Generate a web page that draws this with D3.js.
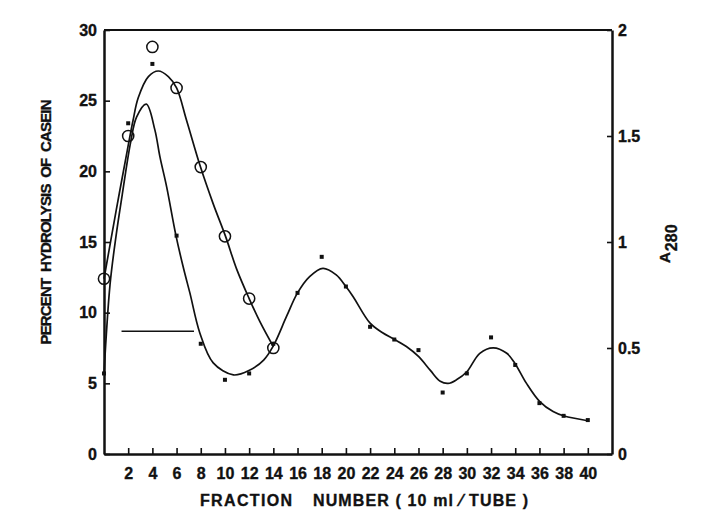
<!DOCTYPE html>
<html>
<head>
<meta charset="utf-8">
<script src="https://cdn.jsdelivr.net/npm/d3@7"></script>
<style>
  html, body { margin: 0; padding: 0; background: #fff; }
  svg { display: block; }
  text { font-family: "Liberation Sans", Arial, Helvetica, sans-serif; font-weight: bold; fill: #111; stroke: #111; stroke-width: 0.35px; }
</style>
</head>
<body>
<svg id="chart" width="708" height="520"></svg>
<script>
// ---------- data ----------
const fractionTicks = [2,4,6,8,10,12,14,16,18,20,22,24,26,28,30,32,34,36,38,40];
const leftTicks = [0,5,10,15,20,25,30];
const rightTicks = [0,0.5,1,1.5,2];

// Percent hydrolysis of casein (open circles, left axis)
const hydroFractions = [0,2,4,6,8,10,12,14];
const hydroValues    = [12.4,22.5,28.8,25.9,20.3,15.4,11.0,7.5];

// A280 (small dots, right axis)
const a280Fractions = [0,2,4,6,8,10,12,14,16,18,20,22,24,26,28,30,32,34,36,38,40];
const a280Values    = [0.38,1.56,1.84,1.03,0.52,0.35,0.38,0.52,0.76,0.93,0.79,0.60,0.54,0.49,0.29,0.38,0.55,0.42,0.24,0.18,0.16];

// Hand-drawn smooth curves
const hydroCurve = [[0,12.4],[1,17.2],[1.93,21.5],[2.4,23.6],[2.83,25.2],[3.67,26.7],[4.49,27.1],[5.32,26.7],[6,25.9],[6.83,23.6],[7.98,20.3],[9.03,17.7],[10.05,15.4],[10.96,13.1],[12,11.0],[12.89,9.36],[14,7.6]];
const a280Curve = [[0,0.38],[0.5,0.80],[1,1.03],[1.5,1.22],[2.2,1.47],[2.7,1.59],[3.5,1.65],[4.2,1.53],[4.63,1.40],[5.18,1.26],[5.95,1.03],[6.6,0.87],[7.1,0.76],[7.93,0.57],[9.03,0.43],[10.7,0.373],[12.06,0.396],[13.2,0.443],[14,0.51],[15.1,0.65],[16,0.76],[17,0.837],[18.1,0.876],[19.2,0.845],[20,0.79],[20.6,0.742],[22,0.617],[23,0.573],[24,0.541],[25,0.507],[26,0.46],[27,0.393],[27.8,0.343],[28.45,0.333],[29.14,0.35],[30,0.388],[31.07,0.475],[32.17,0.501],[33.3,0.475],[34,0.425],[34.93,0.333],[36.03,0.247],[37.13,0.20],[38.04,0.179],[40,0.157]];

// pooled fractions bar (left-axis units)
const poolRange = [1.45, 7.44];
const poolLevel = 8.68;

// ---------- drawing ----------
const svg = d3.select("#chart");
const x  = d3.scaleLinear().domain([0,42]).range([104,612]);
const yL = d3.scaleLinear().domain([0,30]).range([454,30]);
const yR = d3.scaleLinear().domain([0,2]).range([454,30]);
const ink = "#111";

// frame top
svg.append("line").attr("x1",x(0)).attr("x2",x(42)).attr("y1",yL(30)).attr("y2",yL(30))
  .attr("stroke",ink).attr("stroke-width",2);

// left axis
const gL = svg.append("g").attr("transform",`translate(${x(0)},0)`)
  .call(d3.axisLeft(yL).tickValues(leftTicks).tickSize(-6).tickSizeOuter(0).tickPadding(7).tickFormat(d3.format("d")));
// right axis
const gR = svg.append("g").attr("transform",`translate(${x(42)},0)`)
  .call(d3.axisRight(yR).tickValues(rightTicks).tickSize(-5).tickSizeOuter(0).tickPadding(6).tickFormat(d => d));
// bottom axis
const gB = svg.append("g").attr("transform",`translate(0,${yL(0)})`)
  .call(d3.axisBottom(x).tickValues(fractionTicks).tickSize(-6).tickSizeOuter(0).tickPadding(14).tickFormat(d3.format("d")));

[gL,gR,gB].forEach(g => {
  g.select(".domain").attr("stroke",ink).attr("stroke-width",2.5);
  g.selectAll(".tick line").attr("stroke",ink).attr("stroke-width",1.6);
  g.selectAll(".tick text").attr("fill",ink);
});
gL.selectAll(".tick text").style("font-size","16px");
gR.selectAll(".tick text").style("font-size","16px");
gB.selectAll(".tick text").style("font-size","16px")
  .style("font-family","'Liberation Sans Narrow','Liberation Sans',Arial,sans-serif");

// curves
const lineL = d3.line().x(d => x(d[0])).y(d => yL(d[1])).curve(d3.curveCatmullRom.alpha(0.5));
const lineR = d3.line().x(d => x(d[0])).y(d => yR(d[1])).curve(d3.curveCatmullRom.alpha(0.5));
svg.append("path").attr("d", lineL(hydroCurve)).attr("fill","none").attr("stroke",ink).attr("stroke-width",1.7);
svg.append("path").attr("d", lineR(a280Curve)).attr("fill","none").attr("stroke",ink).attr("stroke-width",1.7);

// pool bar
svg.append("line").attr("x1",x(poolRange[0])).attr("x2",x(poolRange[1]))
  .attr("y1",yL(poolLevel)).attr("y2",yL(poolLevel)).attr("stroke",ink).attr("stroke-width",1.5);

// dots (A280)
svg.append("g").selectAll("rect").data(a280Fractions).join("rect")
  .attr("x",(d,i) => x(d)-2).attr("y",(d,i) => yR(a280Values[i])-2)
  .attr("width",4).attr("height",4).attr("fill",ink);

// circles (hydrolysis)
svg.append("g").selectAll("circle").data(hydroFractions).join("circle")
  .attr("cx",d => x(d)).attr("cy",(d,i) => yL(hydroValues[i])).attr("r",5.6)
  .attr("fill","none").attr("stroke",ink).attr("stroke-width",1.5);

// axis titles
svg.append("text").attr("transform","translate(51,222) rotate(-90)").attr("text-anchor","middle")
  .style("font-size","15px").attr("textLength",245).attr("lengthAdjust","spacing")
  .style("white-space","pre").text("PERCENT  HYDROLYSIS  OF  CASEIN");

const rt = svg.append("text").attr("transform","translate(670,263) rotate(-90)").attr("text-anchor","start")
  .style("font-size","15px");
rt.append("tspan").text("A");
rt.append("tspan").attr("dy",7).attr("dx",1).style("font-size","16px").text("280");

const bt = svg.append("text").attr("y",506).style("font-size","16px");
bt.append("tspan").attr("x",200).attr("textLength",92).attr("lengthAdjust","spacing").text("FRACTION");
bt.append("tspan").attr("x",313).style("white-space","pre").attr("textLength",215).attr("lengthAdjust","spacing").text("NUMBER ( 10 ml ⁄ TUBE )");
</script>
</body>
</html>
